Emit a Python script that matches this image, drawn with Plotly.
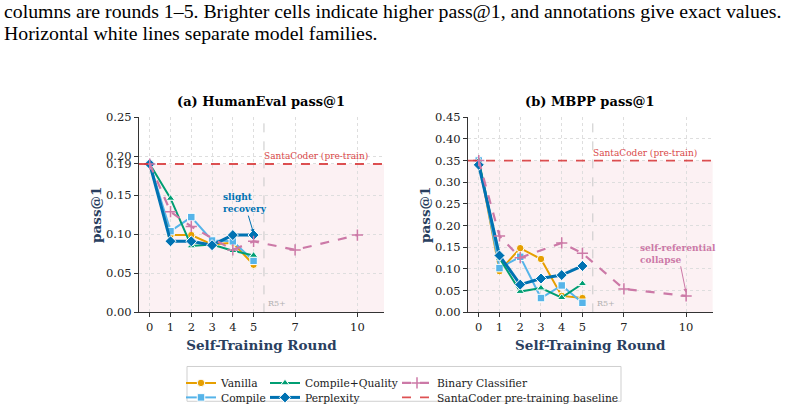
import plotly.graph_objects as go

# ---------------- data ----------------
rounds = [0, 1, 2, 3, 4, 5]
bin_rounds = [0, 1, 2, 4, 5, 7, 10]

he_vanilla = [0.190, 0.099, 0.099, 0.087, 0.089, 0.061]
he_compile = [0.190, 0.104, 0.122, 0.092, 0.091, 0.066]
he_cq      = [0.190, 0.146, 0.085, 0.087, 0.079, 0.073]
he_ppl     = [0.190, 0.091, 0.091, 0.086, 0.099, 0.099]
he_binary  = [0.190, 0.129, 0.110, 0.080, 0.091, 0.080, 0.099]
he_base = 0.19

mb_vanilla = [0.350, 0.095, 0.148, 0.123, 0.038, 0.033]
mb_compile = [0.350, 0.102, 0.128, 0.033, 0.062, 0.022]
mb_cq      = [0.350, 0.125, 0.048, 0.056, 0.034, 0.066]
mb_ppl     = [0.340, 0.131, 0.064, 0.078, 0.086, 0.107]
mb_binary  = [0.350, 0.176, 0.126, 0.160, 0.136, 0.054, 0.038]
mb_base = 0.35

x_ticks = [0, 1, 2, 3, 4, 5, 7, 10]
he_yticks = [0.0, 0.05, 0.10, 0.15, 0.19, 0.20, 0.25]
mb_yticks = [0.0, 0.05, 0.10, 0.15, 0.20, 0.25, 0.30, 0.35, 0.40, 0.45]

names = ["Vanilla", "Compile", "Compile+Quality", "Perplexity", "Binary Classifier"]
base_name = "SantaCoder pre-training baseline"
colors = {"Vanilla": "#E69F00", "Compile": "#56B4E9", "Compile+Quality": "#009E73",
          "Perplexity": "#0072B2", "Binary Classifier": "#CC79A7"}
symbols = {"Vanilla": "circle", "Compile": "square", "Compile+Quality": "triangle-up",
           "Perplexity": "diamond", "Binary Classifier": "cross-thin"}
# one legend per entry: (legend id, text-start x px, row centre y px)
legend_of = {"Vanilla": "legend", "Compile": "legend2", "Compile+Quality": "legend3",
             "Perplexity": "legend4", "Binary Classifier": "legend5", base_name: "legend6"}
legend_pos = {"legend": (221, 382), "legend2": (221, 397), "legend3": (305, 382),
              "legend4": (305, 397), "legend5": (437, 382), "legend6": (437, 397)}
base_color = "rgba(214,39,40,0.8)"

FONT = "DejaVu Serif"
XR = [-0.52, 11.28]

fig = go.Figure()

def add_panel(xa, ya, series, base, showleg):
    for name, xs, ys in series:
        c = colors[name]
        if name == "Binary Classifier":
            marker = dict(symbol="cross-thin", size=8, color=c, line=dict(color=c, width=1.5))
            line = dict(color=c, width=2.2, dash="dash")
        else:
            sz = 8.5 if name == "Perplexity" else 7.5
            marker = dict(symbol=symbols[name], size=sz, color=c, line=dict(color="white", width=1))
            line = dict(color=c, width=3 if name == "Perplexity" else 2)
        fig.add_trace(go.Scatter(x=xs, y=ys, mode="lines+markers", name=name,
                                 marker=marker, line=line, xaxis=xa, yaxis=ya,
                                 legend=legend_of[name], showlegend=showleg))
    fig.add_trace(go.Scatter(x=XR, y=[base, base], mode="lines", name=base_name,
                             line=dict(color=base_color, width=1.8, dash="dash"),
                             xaxis=xa, yaxis=ya, legend=legend_of[base_name], showlegend=showleg))

add_panel("x", "y", [("Vanilla", rounds, he_vanilla), ("Compile", rounds, he_compile),
                     ("Compile+Quality", rounds, he_cq), ("Perplexity", rounds, he_ppl),
                     ("Binary Classifier", bin_rounds, he_binary)], he_base, True)
add_panel("x2", "y2", [("Vanilla", rounds, mb_vanilla), ("Compile", rounds, mb_compile),
                       ("Compile+Quality", rounds, mb_cq), ("Perplexity", rounds, mb_ppl),
                       ("Binary Classifier", bin_rounds, mb_binary)], mb_base, False)

# shaded region below baseline, and the R5+ separator
for xa, ya, base, ymax in [("x", "y", he_base, 0.25), ("x2", "y2", mb_base, 0.45)]:
    fig.add_shape(type="rect", xref=f"{xa} domain", yref=ya, x0=0, x1=1, y0=0, y1=base,
                  fillcolor="#fcf1f3", line=dict(width=0), layer="below")
    fig.add_shape(type="line", xref=xa, yref=f"{ya} domain", x0=5.5, x1=5.5, y0=0, y1=1,
                  line=dict(color="#c8c8c8", width=1, dash="dash"), layer="below")
    fig.add_annotation(xref=xa, yref=ya, x=5.62, y=ymax * 0.012, text="R5+", showarrow=False,
                       xanchor="left", yanchor="bottom", font=dict(family=FONT, size=8, color="#b0b0b0"))
    fig.add_annotation(xref=xa, yref=ya, x=8.0, y=base, text="SantaCoder (pre-train)", showarrow=False,
                       xanchor="center", yanchor="bottom", yshift=1,
                       font=dict(family=FONT, size=9, color="#d9484a"))

fig.add_annotation(xref="x", yref="y", x=5, y=0.1015, ax=-9, ay=-30,
                   text="<b>slight<br>recovery</b>", align="left", showarrow=True,
                   arrowhead=2, arrowsize=0.8, arrowwidth=1, arrowcolor="#0072B2",
                   font=dict(family=FONT, size=9, color="#0072B2"))
fig.add_annotation(xref="x2", yref="y2", x=10, y=0.045, ax=-8, ay=-39,
                   text="<b>self-referential<br>collapse</b>", align="left", showarrow=True,
                   arrowhead=2, arrowsize=0.8, arrowwidth=1, arrowcolor="#CC79A7",
                   font=dict(family=FONT, size=9, color="#CC79A7"))

# caption text above the figure
fig.add_annotation(xref="paper", yref="paper", x=0.003, y=1.0, yshift=9, xanchor="left", yanchor="top",
                   text="columns are rounds 1–5. Brighter cells indicate higher pass@1, and annotations give exact values.",
                   showarrow=False, font=dict(family="Liberation Serif", size=19.8, color="black"))
fig.add_annotation(xref="paper", yref="paper", x=0.003, y=1.0, yshift=-13, xanchor="left", yanchor="top",
                   text="Horizontal white lines separate model families.",
                   showarrow=False, font=dict(family="Liberation Serif", size=19.8, color="black"))

# panel titles
for xc, t in [((0.1722 + 0.4758) / 2, "(a) HumanEval pass@1"), ((0.5799 + 0.8831) / 2, "(b) MBPP pass@1")]:
    fig.add_annotation(xref="paper", yref="paper", x=xc, y=0.726, yshift=6, xanchor="center", yanchor="bottom",
                       text=f"<b>{t}</b>", showarrow=False, font=dict(family=FONT, size=13, color="black"))

# legend box
fig.add_shape(type="rect", xref="paper", yref="paper", x0=187 / 807, x1=621 / 807,
              y0=(416 - 408) / 416, y1=(416 - 372) / 416, line=dict(color="#cfcfcf", width=1),
              fillcolor="rgba(0,0,0,0)")

axis_common = dict(showline=True, linecolor="#333333", linewidth=1.2, ticks="outside", ticklen=4,
                   tickcolor="#333333", tickfont=dict(family=FONT, size=11.5, color="#222"),
                   showgrid=True, gridcolor="#dedede", griddash="dot", gridwidth=1, zeroline=False)

legends = {}
for lid, (tx, ty) in legend_pos.items():
    legends[lid] = dict(orientation="v", bgcolor="rgba(0,0,0,0)", borderwidth=0,
                        font=dict(family=FONT, size=10.7, color="#222"),
                        x=(tx - 40) / 807, xanchor="left", y=(416 - ty - 7) / 416, yanchor="middle",
                        itemwidth=30)

fig.update_layout(
    width=807, height=416, margin=dict(l=0, r=0, t=0, b=0),
    paper_bgcolor="white", plot_bgcolor="white",
    xaxis=dict(domain=[0.1722, 0.4758], range=XR, tickvals=x_ticks, anchor="y",
               title=dict(text="<b>Self-Training Round</b>", font=dict(family=FONT, size=13.5), standoff=7),
               **axis_common),
    yaxis=dict(domain=[0.2404, 0.726], range=[0, 0.25], tickvals=he_yticks,
               ticktext=[f"{v:.2f}" for v in he_yticks], anchor="x",
               title=dict(text="<b>pass@1</b>", font=dict(family=FONT, size=13.5), standoff=1),
               **axis_common),
    xaxis2=dict(domain=[0.5799, 0.8831], range=XR, tickvals=x_ticks, anchor="y2",
                title=dict(text="<b>Self-Training Round</b>", font=dict(family=FONT, size=13.5), standoff=7),
                **axis_common),
    yaxis2=dict(domain=[0.2404, 0.726], range=[0, 0.45], tickvals=mb_yticks,
                ticktext=[f"{v:.2f}" for v in mb_yticks], anchor="x2",
                title=dict(text="<b>pass@1</b>", font=dict(family=FONT, size=13.5), standoff=1),
                **axis_common),
    **legends,
)

fig.write_html("out.html")
